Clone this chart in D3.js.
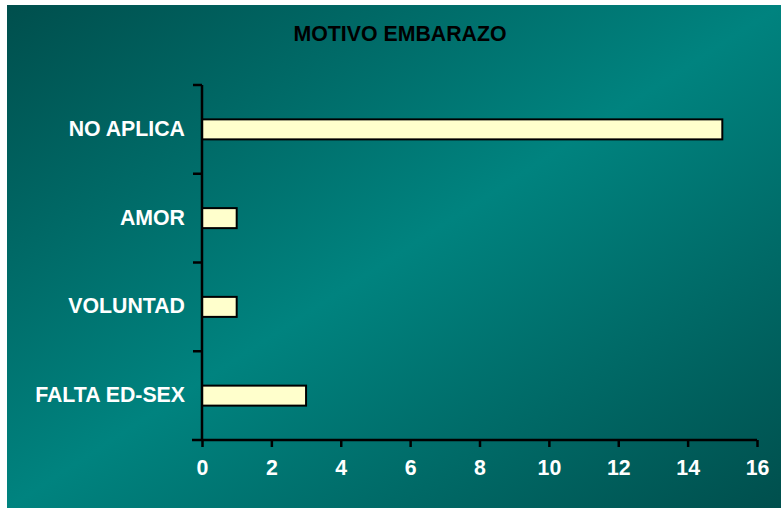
<!DOCTYPE html>
<html>
<head>
<meta charset="utf-8">
<script src="https://cdn.jsdelivr.net/npm/d3@7"></script>
<style>
  body { margin: 0; background: #fff; }
  text { font-family: "Liberation Sans", Arial, sans-serif; font-weight: bold; }
</style>
</head>
<body>
<script>
// Chart data
const categories = ["NO APLICA", "AMOR", "VOLUNTAD", "FALTA ED-SEX"];
const values = [15, 1, 1, 3];
const xTicks = [0, 2, 4, 6, 8, 10, 12, 14, 16];

const width = 781;
const height = 508;
const fontSize = 21.3;
const svg = d3.select("body").append("svg")
    .attr("width", width)
    .attr("height", height);

// Background gradient panel
const grad = svg.append("defs").append("linearGradient")
    .attr("id", "bg")
    .attr("x1", "0%").attr("y1", "0%")
    .attr("x2", "100%").attr("y2", "100%");
grad.append("stop").attr("offset", "0%").attr("stop-color", "#004f4d");
grad.append("stop").attr("offset", "50%").attr("stop-color", "#00837f");
grad.append("stop").attr("offset", "100%").attr("stop-color", "#004f4d");

svg.append("rect")
    .attr("x", 7).attr("y", 5)
    .attr("width", width - 7).attr("height", height - 5)
    .attr("fill", "url(#bg)");

// Title
svg.append("text")
    .attr("x", 400).attr("y", 41)
    .attr("text-anchor", "middle")
    .attr("font-size", fontSize)
    .attr("fill", "#000")
    .text("MOTIVO EMBARAZO");

// Scales
const x = d3.scaleLinear().domain([0, 16]).range([202, 757]);
const y = d3.scaleBand().domain(categories).range([85, 440]);

// Bars
svg.selectAll("rect.bar")
    .data(values)
    .join("rect")
    .attr("class", "bar")
    .attr("x", x(0))
    .attr("y", (d, i) => y(categories[i]) + y.bandwidth() / 2 - 10)
    .attr("width", d => x(d) - x(0))
    .attr("height", 20)
    .attr("fill", "#ffffcc")
    .attr("stroke", "#000")
    .attr("stroke-width", 2);

// X axis
const xAxis = svg.append("g")
    .attr("transform", "translate(0,440)")
    .call(d3.axisBottom(x).tickValues(xTicks).tickSize(7).tickSizeOuter(0).tickPadding(13));
xAxis.select(".domain").attr("stroke", "#000").attr("stroke-width", 2.5)
    .attr("d", `M192,0H${x(16)}`);
xAxis.selectAll(".tick line").attr("stroke", "#000").attr("stroke-width", 2.5);
xAxis.selectAll(".tick text")
    .attr("fill", "#fff").attr("font-size", fontSize)
    .attr("font-family", "Liberation Sans, Arial, sans-serif")
    .attr("font-weight", "bold");

// Y axis line with ticks at category boundaries
const yAxis = svg.append("g");
yAxis.append("line")
    .attr("x1", x(0)).attr("x2", x(0))
    .attr("y1", 85).attr("y2", 440)
    .attr("stroke", "#000").attr("stroke-width", 2.5);
const bounds = categories.map(c => y(c));
yAxis.selectAll("line.tk")
    .data(bounds)
    .join("line")
    .attr("class", "tk")
    .attr("x1", x(0) - 9).attr("x2", x(0))
    .attr("y1", d => d).attr("y2", d => d)
    .attr("stroke", "#000").attr("stroke-width", 2.5);

// Category labels
svg.selectAll("text.cat")
    .data(categories)
    .join("text")
    .attr("class", "cat")
    .attr("x", 185)
    .attr("y", d => y(d) + y.bandwidth() / 2 - 1)
    .attr("dy", "0.35em")
    .attr("text-anchor", "end")
    .attr("font-size", fontSize)
    .attr("fill", "#fff")
    .text(d => d);
</script>
</body>
</html>
